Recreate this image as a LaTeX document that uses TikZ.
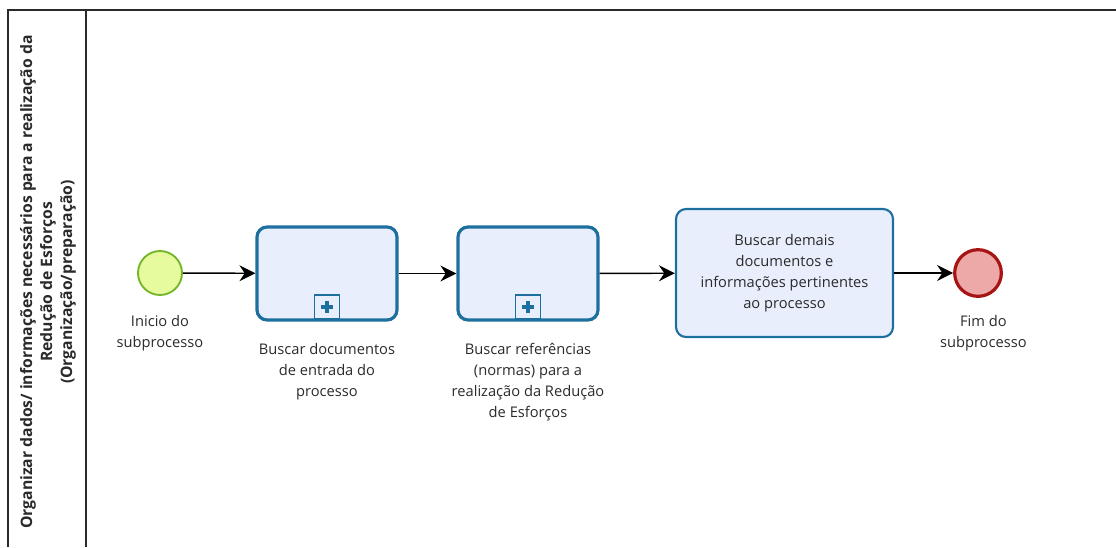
\documentclass[tikz,border=0pt]{standalone}
\usepackage{fontspec}
\setmainfont{Open Sans}
\usetikzlibrary{positioning,arrows.meta}
\definecolor{taskline}{HTML}{1D6F9E}
\definecolor{taskfill}{HTML}{E9EEFD}
\definecolor{startline}{HTML}{74B62A}
\definecolor{startfill}{HTML}{E6FA9E}
\definecolor{endline}{HTML}{A71414}
\definecolor{endfill}{HTML}{EDA8A8}
\definecolor{ink}{HTML}{2A2A2A}

\begin{document}
\begin{tikzpicture}[x=0.75pt, y=-0.75pt,
  >={Stealth[length=12pt, width=12pt, inset=4pt]},
  flow/.style={->, line width=1.1pt, black},
  lane/.style={line width=1.3pt, ink},
  task/.style={draw=taskline, fill=taskfill, rounded corners=7.5pt,
    line width=2.4pt, minimum width=105pt, minimum height=69.75pt,
    font=\fontsize{11}{15.75}\selectfont, text=ink, align=center},
  bigtask/.style={task, line width=1.6pt, minimum width=162.75pt,
    minimum height=96pt},
  marker/.style={draw=taskline, fill=taskfill, line width=1.4pt,
    minimum width=18.75pt, minimum height=18pt, inner sep=0pt},
  startev/.style={circle, draw=startline, fill=startfill, line width=1.4pt,
    minimum size=33pt, inner sep=0pt},
  endev/.style={circle, draw=endline, fill=endfill, line width=2.4pt,
    minimum size=35pt, inner sep=0pt},
  elab/.style={font=\fontsize{11}{15.75}\selectfont, text=ink, align=center,
    inner sep=0pt},
  title/.style={font=\fontsize{11.8}{15}\selectfont\bfseries, text=ink,
    align=center, inner sep=0pt}]
\useasboundingbox (0,0) rectangle (1116,547);

% lane
\draw[lane] (1116,10) -- (8,10) -- (8,547);
\draw[lane] (86,10) -- (86,547);
\node[title, rotate=90] (lt) at (48,282)
  {Organizar dados/ informações necessários para a realização da\\
   Redução de Esforços\\(Organização/preparação)};

% events and tasks
\node[startev] (ini) at (160,273) {};
\node[task] (t1) at (327,273.5) {};
\node[task] (t2) at (528,273.5) {};
\node[bigtask] (t3) at (784.5,273)
  {Buscar demais\\documentos e\\informações pertinentes\\ao processo};
\node[endev] (fim) at (978,273) {};

% subprocess markers
\node[marker, anchor=south] (m1) at ([yshift=1.2pt]t1.south) {};
\node[marker, anchor=south] (m2) at ([yshift=1.2pt]t2.south) {};
\foreach \m in {m1,m2} {
  \draw[taskline, line width=3pt] ([xshift=-4.5pt]\m.center) -- ([xshift=4.5pt]\m.center);
  \draw[taskline, line width=3pt] ([yshift=-4.5pt]\m.center) -- ([yshift=4.5pt]\m.center);
}

% labels
\node[elab, below=14pt of ini] (lini) {Inicio do\\subprocesso};
\node[elab, below=16pt of t1] (lt1) {Buscar documentos\\de entrada do\\processo};
\node[elab, below=16pt of t2] (lt2) {Buscar referências\\(normas) para a\\realização da Redução\\de Esforços};
\node[elab, below=13pt of fim, xshift=4pt] (lfim) {Fim do\\subprocesso};

% flows
\draw[flow] (ini) -- (t1);
\draw[flow] (t1) -- (t2);
\draw[flow] (t2) -- (t3);
\draw[flow] (t3) -- (fim);
\end{tikzpicture}
\end{document}
